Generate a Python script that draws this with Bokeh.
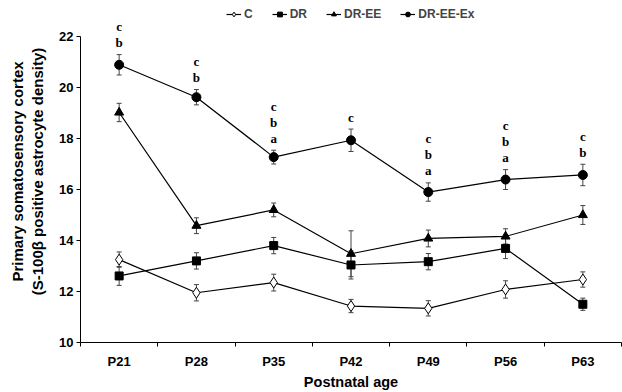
from bokeh.plotting import figure
from bokeh.models import Range1d, FixedTicker, Whisker, ColumnDataSource, Legend, LegendItem, TeeHead
from bokeh.core.properties import value
from bokeh.embed import file_html
from bokeh.resources import INLINE

ages = ["P21", "P28", "P35", "P42", "P49", "P56", "P63"]

c_mean = [13.25, 11.95, 12.35, 11.43, 11.34, 12.08, 12.47]
c_err = [0.30, 0.32, 0.33, 0.26, 0.30, 0.34, 0.30]
dr_mean = [12.61, 13.20, 13.80, 13.04, 13.17, 13.69, 11.50]
dr_err = [0.37, 0.32, 0.32, 0.55, 0.32, 0.40, 0.24]
dree_mean = [19.02, 14.58, 15.20, 13.48, 14.08, 14.16, 15.00]
dree_err = [0.36, 0.31, 0.27, 0.90, 0.33, 0.30, 0.37]
dreeex_mean = [20.89, 19.62, 17.27, 17.93, 15.90, 16.39, 16.57]
dreeex_err = [0.40, 0.30, 0.27, 0.44, 0.36, 0.39, 0.42]
sig_letters = ["cb", "cb", "cba", "c", "cba", "cba", "cb"]

y_ticks = [10, 12, 14, 16, 18, 20, 22]

xs = [i + 1 for i in range(len(ages))]

p = figure(width=622, height=392, output_backend="svg", toolbar_location=None,
           x_range=Range1d(0.5, len(ages) + 0.5), y_range=Range1d(10, 23.412),
           min_border_left=80, min_border_right=1, min_border_top=0, min_border_bottom=49)
p.outline_line_color = None
p.xgrid.visible = False
p.ygrid.visible = False
p.background_fill_color = "white"

font = "Liberation Sans"

# x axis
p.xaxis.ticker = FixedTicker(ticks=xs, minor_ticks=[x + 0.5 for x in [0] + xs])
p.xaxis.major_label_overrides = {x: a for x, a in zip(xs, ages)}
p.xaxis.major_tick_out = 0
p.xaxis.major_tick_in = 0
p.xaxis.minor_tick_out = 4
p.xaxis.minor_tick_in = 0
p.xaxis.major_label_standoff = 7
p.xaxis.axis_label = "Postnatal age"
p.xaxis.axis_label_standoff = 2

# y axis
p.yaxis.ticker = FixedTicker(ticks=y_ticks)
p.yaxis.bounds = (10, 22)
p.yaxis.major_tick_out = 4
p.yaxis.major_tick_in = 0
p.yaxis.minor_tick_line_color = None
p.yaxis.major_label_standoff = 3
p.yaxis.axis_label = "Primary somatosensory cortex\n(S-100\u03b2 positive astrocyte density)"
p.yaxis.axis_label_standoff = 10

for ax in (p.xaxis[0], p.yaxis[0]):
    ax.axis_line_color = "black"
    ax.axis_line_width = 1
    ax.major_tick_line_color = "black"
    ax.minor_tick_line_color = "black" if ax is p.xaxis[0] else None
    ax.major_label_text_font = font
    ax.major_label_text_font_style = "bold"
    ax.major_label_text_font_size = "13px"
    ax.major_label_text_color = "black"
    ax.axis_label_text_font = font
    ax.axis_label_text_font_style = "bold"
    ax.axis_label_text_color = "black"
p.xaxis.axis_label_text_font_size = "14.5px"
p.yaxis.axis_label_text_font_size = "15px"

series = [
    ("C", c_mean, c_err, "diamond", "white", 11),
    ("DR", dr_mean, dr_err, "square", "black", 8),
    ("DR-EE", dree_mean, dree_err, "triangle", "black", 9),
    ("DR-EE-Ex", dreeex_mean, dreeex_err, "circle", "black", 9),
]

items = []
for name, mean, err, marker, fill, size in series:
    src = ColumnDataSource(dict(x=xs, y=mean,
                                lo=[m - e for m, e in zip(mean, err)],
                                hi=[m + e for m, e in zip(mean, err)]))
    w = Whisker(source=src, base="x", lower="lo", upper="hi", dimension="height",
                line_color="#444444", line_width=1,
                upper_head=TeeHead(size=5, line_color="#444444", line_width=1),
                lower_head=TeeHead(size=5, line_color="#444444", line_width=1))
    p.add_layout(w)
    ln = p.line("x", "y", source=src, line_color="black", line_width=1.2)
    sc = p.scatter("x", "y", source=src, marker=marker, size=size,
                   fill_color=fill, line_color="black", line_width=1)
    items.append(LegendItem(label=name, renderers=[ln, sc]))

# significance letters above DR-EE-Ex
tx, ty, tt, toff = [], [], [], []
for x, m, e, letters in zip(xs, dreeex_mean, dreeex_err, sig_letters):
    for k, ch in enumerate(reversed(letters)):
        tx.append(x)
        ty.append(m + e)
        tt.append(ch)
        toff.append(-(12 + 16 * k))
p.text(x=tx, y=ty, text=tt, y_offset=toff, text_align="center", text_baseline="middle",
       text_font=value("Liberation Serif"), text_font_style="bold", text_font_size="13px",
       text_color="black")

legend = Legend(items=items, orientation="horizontal", location=(146, 321),
                glyph_width=15, glyph_height=12, label_standoff=3, spacing=19,
                padding=0, margin=0, border_line_color=None, background_fill_alpha=0,
                label_text_font=font, label_text_font_style="bold", label_text_font_size="12px",
                label_height=12, label_width=1)
p.add_layout(legend, "center")

open("out.html", "w").write(file_html(p, INLINE))
